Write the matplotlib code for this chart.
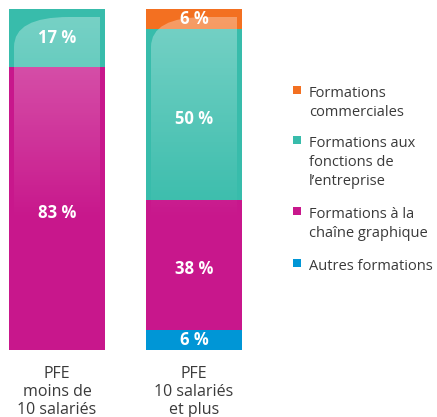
import matplotlib
matplotlib.use("Agg")
import matplotlib.pyplot as plt
import numpy as np
from matplotlib.path import Path
from matplotlib.patches import PathPatch, Rectangle

categories = ["PFE\nmoins de\n10 salariés", "PFE\n10 salariés\net plus"]
series_names = ["Autres formations", "Formations à la\nchaîne graphique",
                "Formations aux\nfonctions de\nl’entreprise", "Formations\ncommerciales"]
autres = [0, 6]
chaine = [83, 38]
fonctions = [17, 50]
commerciales = [0, 6]
series = [autres, chaine, fonctions, commerciales]
colors = ["#0096D6", "#C8178C", "#38BCAB", "#F37021"]

plt.rcParams['font.family'] = ['Open Sans', 'DejaVu Sans']

W, H = 437, 417
fig = plt.figure(figsize=(W / 100, H / 100), dpi=100)
ax = fig.add_axes([0, (H - 350) / H, 260 / W, 341 / H])
spacing = 137.0
ax.set_xlim(-57 / spacing, (260 - 57) / spacing)
ax.set_ylim(0, 100)
ax.axis("off")

x = np.arange(len(categories))
bw = 96 / spacing
bottom = np.zeros(len(categories))
for vals, col in zip(series, colors):
    v = np.array(vals, dtype=float)
    ax.bar(x, v, bw, bottom=bottom, color=col, linewidth=0, zorder=1)
    for xi, vi, bi in zip(x, v, bottom):
        if vi > 0:
            off = -3 if vi > 30 else 0
            ax.annotate(f"{int(vi)} %", (xi, bi + vi / 2), xytext=(0, off),
                        textcoords="offset points", ha="center", va="center",
                        color="white", fontsize=12, fontweight="bold", zorder=4)
    bottom += v

# gloss overlay
top_px = 8
y_top = 100 - top_px / 341 * 100
y_end = 38
inset = 5 / spacing
for xi in x:
    x0, x1 = xi - bw / 2 + inset, xi + bw / 2 - inset
    rx, ry = 55 / spacing, 30 / 341 * 100
    verts = [(x0, y_end), (x0, y_top - ry), (x0, y_top), (x0 + rx, y_top),
             (x1, y_top), (x1, y_end), (x0, y_end)]
    codes = [Path.MOVETO, Path.LINETO, Path.CURVE3, Path.CURVE3,
             Path.LINETO, Path.LINETO, Path.CLOSEPOLY]
    clip = PathPatch(Path(verts, codes), facecolor="none", edgecolor="none",
                     transform=ax.transData)
    ax.add_patch(clip)
    n = 200
    alpha = np.linspace(0.0, 0.32, n).reshape(n, 1)
    img = np.ones((n, 1, 4))
    img[..., 3] = alpha
    im = ax.imshow(img, extent=[x0, x1, y_end, y_top], origin="lower",
                   aspect="auto", zorder=2, interpolation="bilinear")
    im.set_clip_path(clip)
ax.set_xlim(-57 / spacing, (260 - 57) / spacing)
ax.set_ylim(0, 100)

# category labels
centers_px = [57, 194]
for cx, lab in zip(centers_px, categories):
    for i, line in enumerate(lab.split("\n")):
        fig.text(cx / W, 1 - (378 + 18 * i) / H, line, ha="center", va="baseline",
                 fontsize=11.5, color="#3a3a3a")

# legend
legend_items = [(series_names[3], colors[3], 97),
                (series_names[2], colors[2], 147),
                (series_names[1], colors[1], 218),
                (series_names[0], colors[0], 270)]
for name, col, base in legend_items:
    fig.patches.append(Rectangle(((293) / W, 1 - (base - 3) / H), 8 / W, 8 / H,
                                 transform=fig.transFigure, facecolor=col,
                                 edgecolor="none"))
    for i, line in enumerate(name.split("\n")):
        fig.text(309 / W, 1 - (base + 19 * i) / H, line, ha="left", va="baseline",
                 fontsize=10.5, color="#3a3a3a")

fig.savefig("out.png", dpi=100)
